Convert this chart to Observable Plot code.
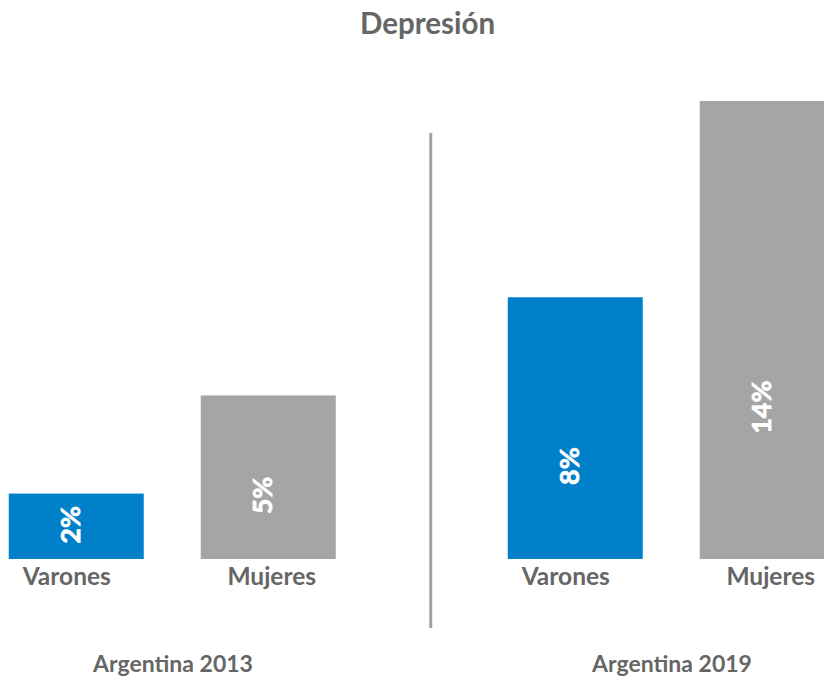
<!DOCTYPE html>
<html><head><meta charset="utf-8">
<script src="https://cdn.jsdelivr.net/npm/d3@7"></script>
<script src="https://cdn.jsdelivr.net/npm/@observablehq/plot@0.6"></script>
<style>
html,body{margin:0;padding:0;background:#fff;overflow:hidden;}
#wrap{width:855px;font-family:Lato,sans-serif;}
h1{margin:0;font-size:29.5px;line-height:46px;height:46px;text-align:center;color:#666;font-weight:700;}
#chart svg{display:block;}
</style></head><body><div id="wrap"><h1>Depresión</h1><div id="chart"></div></div>
<script>
const groups = ["Argentina 2013", "Argentina 2019"];
const sexes = ["Varones", "Mujeres"];
const values2013 = [2, 5];
const values2019 = [8, 14];
const colors = ["#0080c8", "#a5a5a5"];

const data = [
  ...sexes.map((s, i) => ({group: groups[0], sex: s, value: values2013[i]})),
  ...sexes.map((s, i) => ({group: groups[1], sex: s, value: values2019[i]}))
];

const axisStyle = {tickSize: 0, tickPadding: 8, fontSize: 24.5, fontWeight: 700, label: null, fill: "#666"};

const chart = Plot.plot({
  width: 855, height: 633,
  marginLeft: 8.25, marginRight: 19.25, marginTop: 55, marginBottom: 120,
  fx: {domain: groups, paddingInner: 0.3443, paddingOuter: 0, label: null},
  x: {domain: sexes, paddingInner: 0.2987, paddingOuter: 0, label: null},
  y: {domain: [0, 14], axis: null},
  color: {domain: sexes, range: colors},
  style: {fontFamily: "Lato, sans-serif", color: "#666", background: "#fff"},
  marks: [
    Plot.barY(data, {fx: "group", x: "sex", y: "value", fill: "sex"}),
    Plot.text(data, {fx: "group", x: "sex", y: d => d.value * 0.3, text: d => `${d.value}%`, rotate: -90, fill: "white", stroke: "white", strokeWidth: 0.7, fontSize: 27, fontWeight: 700, dx: -5, dy: -15}),
    Plot.ruleX([{group: groups[1], sex: sexes[0]}], {fx: "group", x: "sex", dx: -145, stroke: "#a0a0a0", strokeWidth: 3, insetTop: 32, insetBottom: -69}),
    Plot.axisX([sexes[0]], {...axisStyle, dx: -10}),
    Plot.axisX([sexes[1]], {...axisStyle, dx: 3}),
    Plot.axisFx({anchor: "bottom", tickSize: 0, tickPadding: 96, fontSize: 23, fontWeight: 700, label: null, fill: "#666"})
  ]
});
document.getElementById("chart").appendChild(chart);
</script>
</body></html>
